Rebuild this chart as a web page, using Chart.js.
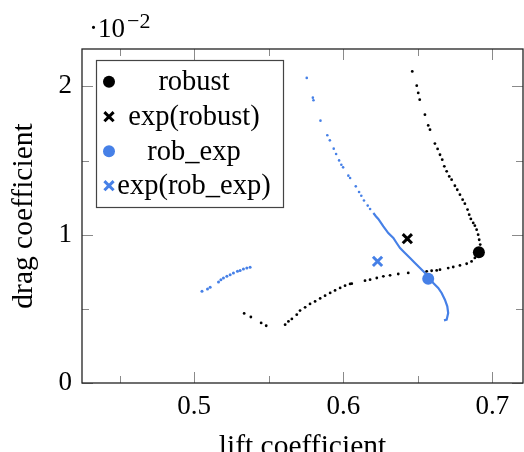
<!DOCTYPE html>
<html>
<head>
<meta charset="utf-8">
<script src="https://cdn.jsdelivr.net/npm/chart.js@4/dist/chart.umd.min.js"></script>
<style>
  html, body { margin: 0; padding: 0; background: #fff; }
  #wrap { width: 524px; height: 452px; }
</style>
</head>
<body>
<div id="wrap"><canvas id="chart" width="524" height="452"></canvas></div>
<script>
// Axis ranges and ticks
const xRange = [0.4247, 0.7206];
const yRange = [0, 0.02252];
const xMajorTicks = [0.5, 0.6, 0.7];
const xMinorTicks = [0.45, 0.55, 0.65];
const yMajorTicks = [0, 0.01, 0.02];
const yMinorTicks = [0.005, 0.015];
const yExponent = -2;

// Front of candidate designs, robust optimisation
const robustFrontX = [
  0.6463, 0.6493, 0.6503, 0.6513, 0.6548, 0.6570, 0.6582, 0.6615, 0.6633, 0.6649,
  0.6664, 0.6678, 0.6694, 0.6711, 0.6727, 0.6749, 0.6765, 0.6783, 0.6801, 0.6816,
  0.6834, 0.6845, 0.6856, 0.6872, 0.6883, 0.6895, 0.6905, 0.6912, 0.6919, 0.6919,
  0.6883, 0.6861, 0.6828, 0.6783, 0.6738, 0.6704, 0.6649, 0.6627, 0.6593, 0.6560,
  0.6436, 0.6369, 0.6314, 0.6269, 0.6225, 0.6180, 0.6146, 0.6057, 0.6046, 0.6012,
  0.5979, 0.5945, 0.5912, 0.5878, 0.5845, 0.5811, 0.5777, 0.5744, 0.5710, 0.5688,
  0.5655, 0.5632, 0.5610, 0.5483, 0.5449, 0.5380, 0.5335
];
const robustFrontY = [
  0.02101, 0.02005, 0.01956, 0.01910, 0.01809, 0.01737, 0.01708, 0.01614, 0.01578, 0.01539,
  0.01506, 0.01461, 0.01427, 0.01393, 0.01371, 0.01330, 0.01303, 0.01270, 0.01236, 0.01209,
  0.01169, 0.01135, 0.01106, 0.01079, 0.01061, 0.01034, 0.01000, 0.00966, 0.00933, 0.00899,
  0.00843, 0.00820, 0.00804, 0.00793, 0.00782, 0.00775, 0.00764, 0.00759, 0.00757, 0.00753,
  0.00742, 0.00735, 0.00726, 0.00719, 0.00708, 0.00697, 0.00690, 0.00670, 0.00668, 0.00656,
  0.00641, 0.00624, 0.00607, 0.00589, 0.00570, 0.00550, 0.00533, 0.00510, 0.00488, 0.00461,
  0.00432, 0.00415, 0.00393, 0.00386, 0.00405, 0.00445, 0.00469
];

// Front of candidate designs, robust optimisation with expectation:
// sparse upper part, densely sampled lower part, and the short left branch
const robExpSparseX = [
  0.5755, 0.5796, 0.5800, 0.5847, 0.5893, 0.5910, 0.5936, 0.5952, 0.5972, 0.5987,
  0.5999, 0.6034, 0.6046, 0.6084, 0.6106, 0.6121, 0.6139, 0.6164, 0.6180
];
const robExpSparseY = [
  0.02057, 0.01924, 0.01906, 0.01769, 0.01670, 0.01636, 0.01580, 0.01544, 0.01501, 0.01472,
  0.01454, 0.01398, 0.01382, 0.01326, 0.01288, 0.01263, 0.01231, 0.01196, 0.01173
];
const robExpDenseX = [
  0.6202, 0.6220, 0.6235, 0.6269, 0.6302, 0.6336, 0.6358, 0.6381, 0.6414, 0.6448,
  0.6481, 0.6515, 0.6537, 0.6560, 0.6604, 0.6637, 0.6660, 0.6682, 0.6698, 0.6704,
  0.6694, 0.6676
];
const robExpDenseY = [
  0.01146, 0.01123, 0.01106, 0.01056, 0.01011, 0.00978, 0.00944, 0.00910, 0.00877, 0.00843,
  0.00809, 0.00775, 0.00753, 0.00730, 0.00674, 0.00641, 0.00607, 0.00562, 0.00517, 0.00472,
  0.00427, 0.00422
];
const robExpLeftX = [
  0.5052, 0.5089, 0.5107, 0.5163, 0.5179, 0.5196, 0.5219, 0.5241, 0.5263, 0.5290,
  0.5308, 0.5330, 0.5353, 0.5375
];
const robExpLeftY = [
  0.00618, 0.00634, 0.00645, 0.00681, 0.00697, 0.00708, 0.00719, 0.00730, 0.00742, 0.00753,
  0.00759, 0.00769, 0.00775, 0.00780
];

// Selected designs and their expected performance
const seriesLabels = ['robust', 'exp(robust)', 'rob_exp', 'exp(rob_exp)'];
const robustPoint = [0.691, 0.00881];
const expRobustPoint = [0.643, 0.00973];
const robExpPoint = [0.657, 0.00703];
const expRobExpPoint = [0.623, 0.00820];

const BLACK = '#000000';
const BLUE = 'rgb(70,128,231)';
const FONT = '"Liberation Serif", "Times New Roman", serif';

const toPoints = (xs, ys) => xs.map((x, i) => ({ x, y: ys[i] }));

const markerStyles = [
  { color: BLACK, style: 'circle' },
  { color: BLACK, style: 'cross' },
  { color: BLUE, style: 'circle' },
  { color: BLUE, style: 'cross' }
];

function drawMarker(ctx, x, y, kind, color) {
  ctx.save();
  if (kind === 'circle') {
    ctx.fillStyle = color;
    ctx.beginPath();
    ctx.arc(x, y, 6, 0, Math.PI * 2);
    ctx.fill();
  } else {
    ctx.strokeStyle = color;
    ctx.lineWidth = 3;
    ctx.lineCap = 'butt';
    const r = 4.6;
    ctx.beginPath();
    ctx.moveTo(x - r, y - r); ctx.lineTo(x + r, y + r);
    ctx.moveTo(x - r, y + r); ctx.lineTo(x + r, y - r);
    ctx.stroke();
  }
  ctx.restore();
}

// Inside ticks on all four sides, the frame, exponent label and legend
const framePlugin = {
  id: 'frame',
  afterDatasetsDraw(chart) {
    const { ctx, chartArea: a, scales: { x, y } } = chart;
    ctx.save();
    ctx.strokeStyle = '#8a8a8a';
    ctx.lineWidth = 1;
    const tickX = (vals, len) => vals.forEach(v => {
      const px = Math.round(x.getPixelForValue(v)) + 0.5;
      ctx.beginPath();
      ctx.moveTo(px, a.bottom); ctx.lineTo(px, a.bottom - len);
      ctx.moveTo(px, a.top); ctx.lineTo(px, a.top + len);
      ctx.stroke();
    });
    const tickY = (vals, len) => vals.forEach(v => {
      const py = Math.round(y.getPixelForValue(v)) + 0.5;
      ctx.beginPath();
      ctx.moveTo(a.left, py); ctx.lineTo(a.left + len, py);
      ctx.moveTo(a.right, py); ctx.lineTo(a.right - len, py);
      ctx.stroke();
    });
    tickX(xMajorTicks, 11);
    tickX(xMinorTicks, 7);
    tickY(yMajorTicks, 11);
    tickY(yMinorTicks, 7);

    ctx.strokeStyle = '#222';
    ctx.lineWidth = 1.3;
    ctx.strokeRect(a.left, a.top, a.right - a.left, a.bottom - a.top);

    // scale factor label
    ctx.fillStyle = '#000';
    ctx.textBaseline = 'alphabetic';
    ctx.textAlign = 'left';
    ctx.font = '27px ' + FONT;
    const base = '\u00b710';
    ctx.fillText(base, 89, 37);
    const w = ctx.measureText(base).width;
    ctx.font = '22px ' + FONT;
    ctx.fillText('\u2212' + String(-yExponent), 89 + w + 2, 28);

    // legend
    const lx = 96, ly = 60, lw = 187, lh = 147;
    ctx.fillStyle = '#fff';
    ctx.fillRect(lx, ly, lw, lh);
    ctx.strokeStyle = '#444';
    ctx.lineWidth = 1.2;
    ctx.strokeRect(lx + 0.5, ly + 0.5, lw, lh);
    const rows = [81.7, 116.7, 151.2, 185.7];
    ctx.font = '28.5px ' + FONT;
    ctx.textAlign = 'center';
    ctx.textBaseline = 'middle';
    seriesLabels.forEach((label, i) => {
      drawMarker(ctx, 109, rows[i], markerStyles[i].style, markerStyles[i].color);
      ctx.fillStyle = '#000';
      ctx.fillText(label, 194, rows[i] + 1);
    });
    ctx.restore();
  }
};

const tickFont = { family: FONT, size: 27 };

new Chart(document.getElementById('chart'), {
  type: 'scatter',
  data: {
    datasets: [
      {
        label: seriesLabels[0],
        data: [{ x: robustPoint[0], y: robustPoint[1] }],
        pointStyle: 'circle', pointRadius: 6, backgroundColor: BLACK, borderWidth: 0
      },
      {
        label: seriesLabels[1],
        data: [{ x: expRobustPoint[0], y: expRobustPoint[1] }],
        pointStyle: 'crossRot', pointRadius: 6.5, borderColor: BLACK, borderWidth: 3
      },
      {
        label: seriesLabels[2],
        data: [{ x: robExpPoint[0], y: robExpPoint[1] }],
        pointStyle: 'circle', pointRadius: 6, backgroundColor: BLUE, borderWidth: 0
      },
      {
        label: seriesLabels[3],
        data: [{ x: expRobExpPoint[0], y: expRobExpPoint[1] }],
        pointStyle: 'crossRot', pointRadius: 6.5, borderColor: BLUE, borderWidth: 3
      },
      {
        label: 'robust front',
        data: toPoints(robustFrontX, robustFrontY),
        pointRadius: 1.4, backgroundColor: BLACK, borderWidth: 0
      },
      {
        label: 'rob_exp front',
        data: toPoints(robExpSparseX, robExpSparseY),
        pointRadius: 1.3, backgroundColor: BLUE, borderWidth: 0
      },
      {
        label: 'rob_exp front (dense)',
        data: toPoints(robExpDenseX, robExpDenseY),
        showLine: true, borderColor: BLUE, borderWidth: 2.2, pointRadius: 0
      },
      {
        label: 'rob_exp front (left)',
        data: toPoints(robExpLeftX, robExpLeftY),
        pointRadius: 1.5, backgroundColor: BLUE, borderWidth: 0
      }
    ]
  },
  options: {
    responsive: false,
    animation: false,
    events: [],
    layout: { autoPadding: false, padding: { top: 49, right: 1, left: 0, bottom: 0 } },
    plugins: { legend: { display: false }, tooltip: { enabled: false } },
    scales: {
      x: {
        type: 'linear',
        min: xRange[0], max: xRange[1],
        afterBuildTicks: s => { s.ticks = xMajorTicks.map(v => ({ value: v })); },
        afterFit: s => { s.height = 69; s.paddingLeft = 0; s.paddingRight = 0; },
        grid: { display: false, drawTicks: false },
        border: { display: false },
        ticks: {
          font: tickFont, color: '#000', padding: 8, maxRotation: 0,
          callback: v => v.toFixed(1)
        },
        title: {
          display: true, text: 'lift coefficient', color: '#000',
          font: { family: FONT, size: 29.5, lineHeight: 1.2 },
          padding: { top: 0, bottom: -13 }
        }
      },
      y: {
        type: 'linear',
        min: yRange[0], max: yRange[1],
        afterBuildTicks: s => { s.ticks = yMajorTicks.map(v => ({ value: v })); },
        afterFit: s => { s.width = 82; s.paddingTop = 0; s.paddingBottom = 0; },
        grid: { display: false, drawTicks: false },
        border: { display: false },
        ticks: {
          font: tickFont, color: '#000', padding: 10,
          callback: v => String(Math.round(v / Math.pow(10, yExponent)))
        },
        title: {
          display: true, text: 'drag coefficient', color: '#000',
          font: { family: FONT, size: 29.5, lineHeight: 1.2 },
          padding: { top: 7, bottom: 0 }
        }
      }
    }
  },
  plugins: [framePlugin]
});
</script>
</body>
</html>
